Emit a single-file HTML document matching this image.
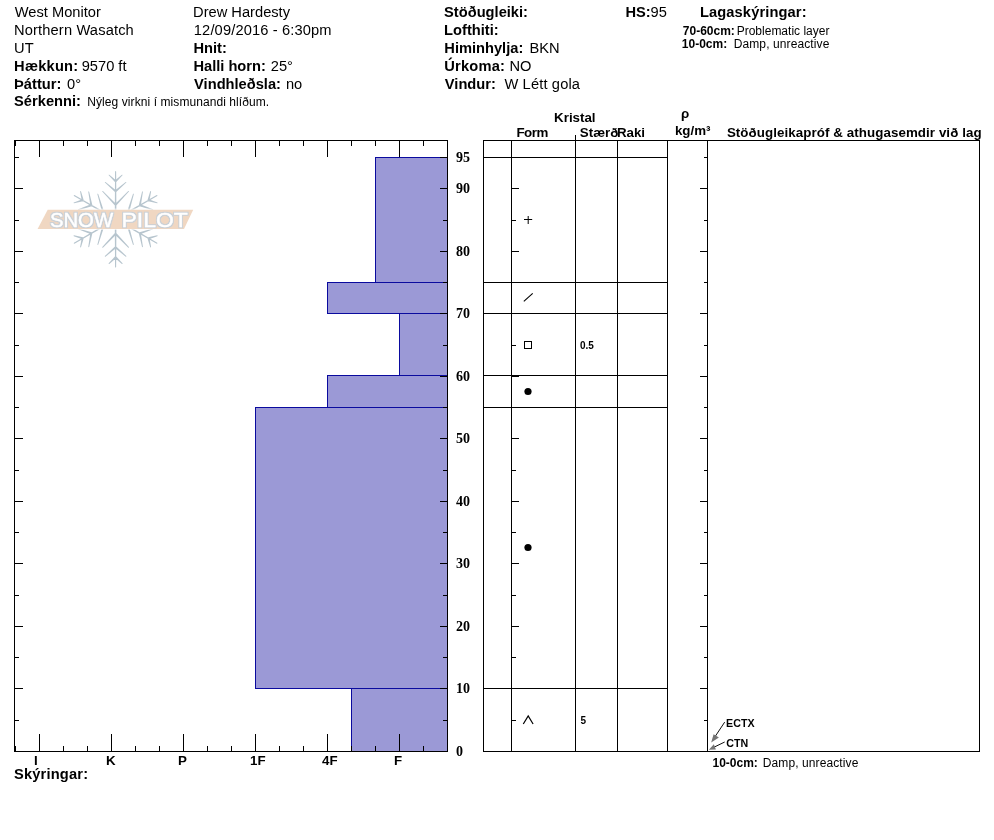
<!DOCTYPE html>
<html lang="is"><head><meta charset="utf-8"><title>SnowPilot</title>
<style>html,body{margin:0;padding:0;background:#fff}body{width:994px;height:840px;overflow:hidden}svg{display:block}text{font-family:"Liberation Sans",sans-serif;fill:#000}.b{font-weight:700}.h{font-size:14.67px}.s{font-size:12px}.c{font-size:13.33px;font-weight:700}.d{font-family:"Liberation Serif",serif;font-weight:700;font-size:14px}.t{font-size:10px;font-weight:700}.e{font-size:10.67px;font-weight:700}.lg text{font-size:21px;font-weight:400;fill:#fff;stroke:#fff;stroke-width:0.4px}</style></head><body>
<svg width="994" height="840" viewBox="0 0 994 840">
<rect width="994" height="840" fill="#fff"/>
<text x="14.8" y="16.7" class="h" xml:space="preserve">West Monitor</text>
<text x="14.0" y="34.7" class="h" style="letter-spacing:0.147px" xml:space="preserve">Northern Wasatch</text>
<text x="14.1" y="52.6" class="h" xml:space="preserve">UT</text>
<text x="14.1" y="70.5" class="h b" style="letter-spacing:0.217px" xml:space="preserve">Hækkun:</text>
<text x="81.7" y="70.5" class="h" xml:space="preserve">9570 ft</text>
<text x="14.1" y="88.5" class="h b" xml:space="preserve">Þáttur:</text>
<text x="67.0" y="88.5" class="h" xml:space="preserve">0°</text>
<text x="14.1" y="106.4" class="h b" xml:space="preserve">Sérkenni:</text>
<text x="87.3" y="106.4" class="s" style="letter-spacing:0.078px" xml:space="preserve">Nýleg virkni í mismunandi hlíðum.</text>
<text x="193.1" y="16.7" class="h" xml:space="preserve">Drew Hardesty</text>
<text x="193.8" y="34.7" class="h" style="letter-spacing:0.139px" xml:space="preserve">12/09/2016 - 6:30pm</text>
<text x="193.4" y="52.6" class="h b" xml:space="preserve">Hnit:</text>
<text x="193.4" y="70.5" class="h b" xml:space="preserve">Halli horn:</text>
<text x="270.8" y="70.5" class="h" xml:space="preserve">25°</text>
<text x="194.1" y="88.5" class="h b" xml:space="preserve">Vindhleðsla:</text>
<text x="285.9" y="88.5" class="h" xml:space="preserve">no</text>
<text x="444.1" y="16.7" class="h b" xml:space="preserve">Stöðugleiki:</text>
<text x="444.1" y="34.7" class="h b" xml:space="preserve">Lofthiti:</text>
<text x="444.3" y="52.6" class="h b" xml:space="preserve">Himinhylja:</text>
<text x="529.5" y="52.6" class="h" xml:space="preserve">BKN</text>
<text x="444.3" y="70.5" class="h b" style="letter-spacing:0.183px" xml:space="preserve">Úrkoma:</text>
<text x="509.5" y="70.5" class="h" xml:space="preserve">NO</text>
<text x="444.8" y="88.5" class="h b" xml:space="preserve">Vindur:</text>
<text x="504.4" y="88.5" class="h" style="letter-spacing:0.15px" xml:space="preserve">W Létt gola</text>
<text x="625.5" y="16.7" class="h b" xml:space="preserve">HS:</text>
<text x="650.6" y="16.7" class="h" xml:space="preserve">95</text>
<text x="699.9" y="16.8" class="h b" style="letter-spacing:0.123px" xml:space="preserve">Lagaskýringar:</text>
<text x="682.8" y="34.6" class="s b" xml:space="preserve">70-60cm:</text>
<text x="736.7" y="34.6" class="s" xml:space="preserve">Problematic layer</text>
<text x="681.8" y="47.7" class="s b" xml:space="preserve">10-0cm:</text>
<text x="733.7" y="47.7" class="s" style="letter-spacing:0.107px" xml:space="preserve">Damp, unreactive</text>
<text x="554.1" y="121.9" class="c" xml:space="preserve">Kristal</text>
<text x="516.4" y="137.2" class="c" style="letter-spacing:-0.433px" xml:space="preserve">Form</text>
<text x="579.8" y="137.2" class="c" xml:space="preserve">Stærð</text>
<text x="616.9" y="137.2" class="c" xml:space="preserve">Raki</text>
<text x="680.9" y="118.3" class="c" xml:space="preserve">ρ</text>
<text x="674.9" y="134.5" class="c" xml:space="preserve">kg/m³</text>
<text x="726.9" y="137.2" class="c" style="letter-spacing:0.078px" xml:space="preserve">Stöðugleikapróf &amp; athugasemdir við lag</text>
<text x="14.0" y="778.5" class="h b" style="letter-spacing:0.178px" xml:space="preserve">Skýringar:</text>
<text x="712.5" y="767" class="s b" xml:space="preserve">10-0cm:</text>
<text x="762.8" y="767" class="s" style="letter-spacing:0.1px" xml:space="preserve">Damp, unreactive</text>
<g shape-rendering="crispEdges">
<rect x="375.5" y="157.5" width="72" height="125" fill="#9b99d6" stroke="#0a0a9e" stroke-width="1"/>
<rect x="327.5" y="282.5" width="120" height="31" fill="#9b99d6" stroke="#0a0a9e" stroke-width="1"/>
<rect x="399.5" y="313.5" width="48" height="62" fill="#9b99d6" stroke="#0a0a9e" stroke-width="1"/>
<rect x="327.5" y="375.5" width="120" height="32" fill="#9b99d6" stroke="#0a0a9e" stroke-width="1"/>
<rect x="255.5" y="407.5" width="192" height="281" fill="#9b99d6" stroke="#0a0a9e" stroke-width="1"/>
<rect x="351.5" y="688.5" width="96" height="63" fill="#9b99d6" stroke="#0a0a9e" stroke-width="1"/>
<g stroke="#000" stroke-width="1" fill="none">
<rect x="14.5" y="140.5" width="433" height="611"/>
<path d="M15.5 141v5M15.5 751v-5M39.5 141v16M39.5 751v-17M63.5 141v5M63.5 751v-5M87.5 141v5M87.5 751v-5M111.5 141v16M111.5 751v-17M135.5 141v5M135.5 751v-5M159.5 141v5M159.5 751v-5M183.5 141v16M183.5 751v-17M207.5 141v5M207.5 751v-5M231.5 141v5M231.5 751v-5M255.5 141v16M255.5 751v-17M279.5 141v5M279.5 751v-5M303.5 141v5M303.5 751v-5M327.5 141v16M327.5 751v-17M351.5 141v5M351.5 751v-5M375.5 141v5M375.5 751v-5M399.5 141v16M399.5 751v-17M423.5 141v5M423.5 751v-5M447.5 141v5M447.5 751v-5M15 751.5h8M447 751.5h-7M15 720.5h4M447 720.5h-4M15 688.5h8M447 688.5h-7M15 657.5h4M447 657.5h-4M15 626.5h8M447 626.5h-7M15 595.5h4M447 595.5h-4M15 563.5h8M447 563.5h-7M15 532.5h4M447 532.5h-4M15 501.5h8M447 501.5h-7M15 470.5h4M447 470.5h-4M15 438.5h8M447 438.5h-7M15 407.5h4M447 407.5h-4M15 376.5h8M447 376.5h-7M15 345.5h4M447 345.5h-4M15 313.5h8M447 313.5h-7M15 282.5h4M447 282.5h-4M15 251.5h8M447 251.5h-7M15 220.5h4M447 220.5h-4M15 188.5h8M447 188.5h-7M15 157.5h4M447 157.5h-7"/>
<rect x="483.5" y="140.5" width="496" height="611"/>
<path d="M511.5 141V751M575.5 135V751M617.5 141V751M667.5 141V751M707.5 141V751M484 157.5H667M484 282.5H667M484 313.5H667M484 375.5H667M484 407.5H667M484 688.5H667M512 720.5h4M707 720.5h-3M512 688.5h7M707 688.5h-7M512 657.5h4M707 657.5h-3M512 626.5h7M707 626.5h-7M512 595.5h4M707 595.5h-3M512 563.5h7M707 563.5h-7M512 532.5h4M707 532.5h-3M512 501.5h7M707 501.5h-7M512 470.5h4M707 470.5h-3M512 438.5h7M707 438.5h-7M512 407.5h4M707 407.5h-3M512 376.5h7M707 376.5h-7M512 345.5h4M707 345.5h-3M512 313.5h7M707 313.5h-7M512 282.5h4M707 282.5h-3M512 251.5h7M707 251.5h-7M512 220.5h4M707 220.5h-3M512 188.5h7M707 188.5h-7M707 157.5h-3"/>
</g></g>
<text x="456" y="162" class="d">95</text>
<text x="456" y="193" class="d">90</text>
<text x="456" y="256" class="d">80</text>
<text x="456" y="318" class="d">70</text>
<text x="456" y="381" class="d">60</text>
<text x="456" y="443" class="d">50</text>
<text x="456" y="506" class="d">40</text>
<text x="456" y="568" class="d">30</text>
<text x="456" y="631" class="d">20</text>
<text x="456" y="693" class="d">10</text>
<text x="456" y="756" class="d">0</text>
<text x="34" y="764.6" class="c">I</text>
<text x="106" y="764.6" class="c">K</text>
<text x="178" y="764.6" class="c">P</text>
<text x="250" y="764.6" class="c">1F</text>
<text x="322" y="764.6" class="c">4F</text>
<text x="394" y="764.6" class="c">F</text>
<g stroke="#000" stroke-width="1" fill="none">
<path d="M524 219.5h8.2M528.2 216v8" />
<path d="M523.8 301.4L532.7 293.3" stroke-width="1.1"/>
<rect x="524.5" y="341.5" width="7" height="7" shape-rendering="crispEdges"/>
<circle cx="528" cy="391.5" r="3.6" fill="#000" stroke="none"/>
<circle cx="528" cy="547.5" r="3.6" fill="#000" stroke="none"/>
<path d="M523.3 724L528.2 715.9L533.1 724" stroke-width="1.2"/>
</g>
<text x="580" y="348.6" class="t">0.5</text>
<text x="580.6" y="723.7" class="t">5</text>
<g stroke="#111" stroke-width="1" fill="none"><path d="M724.7 722.1L714.6 737.3"/><path d="M724.7 742L714 747.2"/></g>
<g fill="#757575"><path d="M711.2 742.6L713.6 734.2L718.9 737.6Z"/><path d="M708.9 749.8L713.8 744.2L715.9 749.6Z"/></g>
<text x="726.1" y="726.8" class="e">ECTX</text>
<text x="726.3" y="746.9" class="e">CTN</text>
<g transform="translate(115.6 219.3)" fill="#b7c5ce">
<path transform="rotate(0)" d="M0.85 0.0L0.55 -47.8L0.0 -48.35L-0.55 -47.8L-0.85 0.0ZM0.69 -38.72L-6.29 -44.63L-6.93 -44.61L-6.91 -43.97L-0.69 -37.28ZM0.69 -37.28L6.91 -43.97L6.93 -44.61L6.29 -44.63L-0.69 -38.72ZM0.66 -28.75L-10.1 -37.39L-10.74 -37.35L-10.7 -36.71L-0.66 -27.25ZM0.66 -27.25L10.7 -36.71L10.74 -37.35L10.1 -37.39L-0.66 -28.75ZM0.72 -15.09L-12.67 -28.36L-13.31 -28.38L-13.33 -27.74L-0.72 -13.71ZM0.72 -13.71L13.33 -27.74L13.31 -28.38L12.67 -28.36L-0.72 -15.09Z"/>
<path transform="rotate(60)" d="M0.85 0.0L0.55 -47.8L0.0 -48.35L-0.55 -47.8L-0.85 0.0ZM0.69 -38.72L-6.29 -44.63L-6.93 -44.61L-6.91 -43.97L-0.69 -37.28ZM0.69 -37.28L6.91 -43.97L6.93 -44.61L6.29 -44.63L-0.69 -38.72ZM0.66 -28.75L-10.1 -37.39L-10.74 -37.35L-10.7 -36.71L-0.66 -27.25ZM0.66 -27.25L10.7 -36.71L10.74 -37.35L10.1 -37.39L-0.66 -28.75ZM0.72 -15.09L-12.67 -28.36L-13.31 -28.38L-13.33 -27.74L-0.72 -13.71ZM0.72 -13.71L13.33 -27.74L13.31 -28.38L12.67 -28.36L-0.72 -15.09Z"/>
<path transform="rotate(120)" d="M0.85 0.0L0.55 -47.8L0.0 -48.35L-0.55 -47.8L-0.85 0.0ZM0.69 -38.72L-6.29 -44.63L-6.93 -44.61L-6.91 -43.97L-0.69 -37.28ZM0.69 -37.28L6.91 -43.97L6.93 -44.61L6.29 -44.63L-0.69 -38.72ZM0.66 -28.75L-10.1 -37.39L-10.74 -37.35L-10.7 -36.71L-0.66 -27.25ZM0.66 -27.25L10.7 -36.71L10.74 -37.35L10.1 -37.39L-0.66 -28.75ZM0.72 -15.09L-12.67 -28.36L-13.31 -28.38L-13.33 -27.74L-0.72 -13.71ZM0.72 -13.71L13.33 -27.74L13.31 -28.38L12.67 -28.36L-0.72 -15.09Z"/>
<path transform="rotate(180)" d="M0.85 0.0L0.55 -47.8L0.0 -48.35L-0.55 -47.8L-0.85 0.0ZM0.69 -38.72L-6.29 -44.63L-6.93 -44.61L-6.91 -43.97L-0.69 -37.28ZM0.69 -37.28L6.91 -43.97L6.93 -44.61L6.29 -44.63L-0.69 -38.72ZM0.66 -28.75L-10.1 -37.39L-10.74 -37.35L-10.7 -36.71L-0.66 -27.25ZM0.66 -27.25L10.7 -36.71L10.74 -37.35L10.1 -37.39L-0.66 -28.75ZM0.72 -15.09L-12.67 -28.36L-13.31 -28.38L-13.33 -27.74L-0.72 -13.71ZM0.72 -13.71L13.33 -27.74L13.31 -28.38L12.67 -28.36L-0.72 -15.09Z"/>
<path transform="rotate(240)" d="M0.85 0.0L0.55 -47.8L0.0 -48.35L-0.55 -47.8L-0.85 0.0ZM0.69 -38.72L-6.29 -44.63L-6.93 -44.61L-6.91 -43.97L-0.69 -37.28ZM0.69 -37.28L6.91 -43.97L6.93 -44.61L6.29 -44.63L-0.69 -38.72ZM0.66 -28.75L-10.1 -37.39L-10.74 -37.35L-10.7 -36.71L-0.66 -27.25ZM0.66 -27.25L10.7 -36.71L10.74 -37.35L10.1 -37.39L-0.66 -28.75ZM0.72 -15.09L-12.67 -28.36L-13.31 -28.38L-13.33 -27.74L-0.72 -13.71ZM0.72 -13.71L13.33 -27.74L13.31 -28.38L12.67 -28.36L-0.72 -15.09Z"/>
<path transform="rotate(300)" d="M0.85 0.0L0.55 -47.8L0.0 -48.35L-0.55 -47.8L-0.85 0.0ZM0.69 -38.72L-6.29 -44.63L-6.93 -44.61L-6.91 -43.97L-0.69 -37.28ZM0.69 -37.28L6.91 -43.97L6.93 -44.61L6.29 -44.63L-0.69 -38.72ZM0.66 -28.75L-10.1 -37.39L-10.74 -37.35L-10.7 -36.71L-0.66 -27.25ZM0.66 -27.25L10.7 -36.71L10.74 -37.35L10.1 -37.39L-0.66 -28.75ZM0.72 -15.09L-12.67 -28.36L-13.31 -28.38L-13.33 -27.74L-0.72 -13.71ZM0.72 -13.71L13.33 -27.74L13.31 -28.38L12.67 -28.36L-0.72 -15.09Z"/>
</g>
<path d="M47.7 209.7H193.2L184 228.9H37.6Z" fill="#f0d7c2" stroke="#fff" stroke-opacity="0.6" stroke-width="2.4" paint-order="stroke"/>
<filter id="ol" x="-5%" y="-20%" width="110%" height="140%"><feMorphology in="SourceAlpha" operator="dilate" radius="0.5" result="d"/><feFlood flood-color="#c9d0d7"/><feComposite in2="d" operator="in" result="o"/><feMerge><feMergeNode in="o"/><feMergeNode in="SourceGraphic"/></feMerge></filter>
<g class="lg" filter="url(#ol)">
<text x="49.9" y="226.9" textLength="63.2" lengthAdjust="spacingAndGlyphs">SNOW</text>
<text x="121.6" y="226.9" textLength="66.2" lengthAdjust="spacingAndGlyphs">PILOT</text>
</g>
</svg></body></html>
